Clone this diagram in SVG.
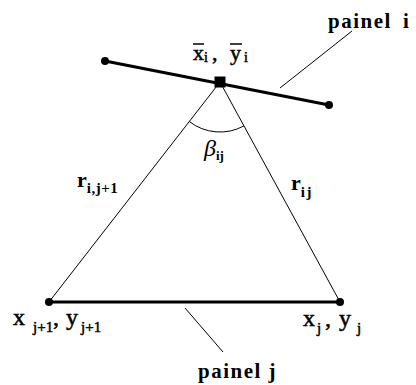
<svg xmlns="http://www.w3.org/2000/svg" width="416" height="385" viewBox="0 0 416 385">
<style>
.thick{stroke:#000;stroke-width:3;fill:none;stroke-linecap:round}
.thin{stroke:#000;stroke-width:1;fill:none}
.dot{fill:#000}
.t{font-family:"Liberation Serif",serif;fill:#000}
.b{font-weight:bold}
.h{stroke:#000;stroke-width:0.5}
.bar{stroke:#000;stroke-width:1.5}
</style>
<rect width="416" height="385" fill="#fff"/>
<g id="connectors">
<line class="thin" x1="220" y1="82" x2="49" y2="302"/>
<line class="thin" x1="220" y1="82" x2="340" y2="302"/>
<path class="thin" d="M189.3,121.5 A50,50 0 0 0 243.9,125.9"/>
<line class="thin" x1="280" y1="88" x2="352" y2="31"/>
<line class="thin" x1="185" y1="308" x2="223" y2="352"/>
</g>
<g id="panel-i">
<line class="thick" x1="105" y1="61" x2="329" y2="105"/>
<circle class="dot" cx="105" cy="61" r="4"/>
<circle class="dot" cx="329" cy="105" r="4"/>
<rect x="214.5" y="76.5" width="11" height="11" fill="#000"/>
<text class="t b" x="328" y="28" font-size="21" letter-spacing="1.5">painel</text>
<text class="t b" x="403" y="28" font-size="21">i</text>
</g>
<g id="control-point">
<text class="t h" y="60" font-size="22"><tspan x="193">x</tspan><tspan x="204" y="62" font-size="14">i</tspan><tspan x="212" y="60">,</tspan><tspan x="230">y</tspan><tspan x="244" y="62" font-size="14">i</tspan></text>
<line class="bar" x1="193" y1="44" x2="204" y2="44"/>
<line class="bar" x1="230" y1="44" x2="242" y2="44"/>
</g>
<g id="angle">
<text class="t" x="204" y="156" font-size="24" font-style="italic">β<tspan font-size="13" font-style="normal" font-weight="bold" dy="4">ij</tspan></text>
</g>
<g id="r-left">
<text class="t b" x="77" y="187" font-size="22">r<tspan font-size="15" dy="6" letter-spacing="0.5">i,j+1</tspan></text>
</g>
<g id="r-right">
<text class="t b" x="291" y="190" font-size="22">r<tspan font-size="15" dy="7" letter-spacing="1.5">ij</tspan></text>
</g>
<g id="panel-j">
<line class="thick" x1="49" y1="302" x2="340" y2="302"/>
<circle class="dot" cx="49" cy="302" r="4"/>
<circle class="dot" cx="340" cy="302" r="4"/>
<text class="t b" x="198" y="378" font-size="21" letter-spacing="1.5">painel j</text>
</g>
<g id="node-j1">
<text class="t h" y="325" font-size="24"><tspan x="13">x</tspan><tspan x="33" y="332" font-size="15">j+1</tspan><tspan x="53" y="325">,</tspan><tspan x="66">y</tspan><tspan x="81" y="332" font-size="15">j+1</tspan></text>
</g>
<g id="node-j">
<text class="t h" y="326" font-size="24"><tspan x="303">x</tspan><tspan x="317" y="333" font-size="15">j</tspan><tspan x="325" y="326">,</tspan><tspan x="339">y</tspan><tspan x="357" y="333" font-size="15">j</tspan></text>
</g>
</svg>
